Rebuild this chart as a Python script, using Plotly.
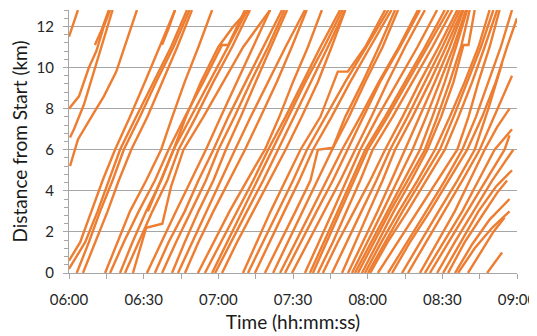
import plotly.graph_objects as go

# ---- data (minutes after 06:00, km from start) ----
KM_STD = [0, 1.5, 3.0, 4.5, 6.0, 7.6, 9.3, 11.0, 12.8]

# trips passing every standard km mark: time (min after 06:00) at each mark
std_trip_times = [
    [3.1, 8, 12.5, 17.5, 22, 28.5, 35, 42, 48.4],
    [5.6, 10.5, 15.5, 20, 25, 31.5, 37.5, 43.5, 49.4],
    [14.5, 19.5, 24.5, 31, 37, 41.5, 46.5, 52, 57.5],
    [20.5, 25.5, 31, 37, 42, 49, 56.5, 64, 71.7],
    [22.5, 28, 33.5, 39.5, 44, 51, 58, 65.5, 72.7],
    [31.3, 37, 43, 49, 55, 61, 67.5, 74, 80.8],
    [34.5, 40, 46.5, 52, 58, 64, 71, 78, 85.6],
    [37.4, 43, 49, 55, 60, 66.5, 73, 80, 86.6],
    [41.4, 46.5, 52, 58, 63, 69, 75, 81, 87.6],
    [43.8, 49.5, 55, 61, 66.7, 73, 80, 87, 94.8],
    [46.6, 52, 58, 64.5, 70.7, 77, 83.5, 89.5, 95.5],
    [51.8, 58, 64.5, 71.5, 78.7, 84.5, 90, 96, 101.6],
    [54.6, 61, 67.5, 74, 80, 87, 94, 101, 108.9],
    [57.5, 63.5, 69.5, 75.5, 81.6, 88, 95, 102.5, 109.9],
    [58.7, 65, 71.5, 78, 84, 90.5, 97, 104, 110.9],
    [61.5, 67.5, 74, 80.5, 87, 93.5, 100, 105.5, 111],
    [71.9, 78, 84, 90, 95.6, 103, 111, 119.5, 128.3],
    [74.7, 80.5, 86.5, 92.5, 98, 105.5, 113, 121, 129.6],
    [82, 88, 94, 100, 105.7, 112.5, 119, 126, 132.2],
    [84.8, 91, 97.5, 103.5, 109.7, 117, 124.5, 132.5, 140.2],
    [86.8, 93, 99.5, 106, 112, 118.5, 125, 133, 141],
    [89.6, 96, 102.5, 109, 115, 121.5, 128, 135, 143],
    [94.8, 100.5, 106, 111.5, 117, 124, 132, 140, 147.9],
    [96.8, 102.5, 108, 113.5, 119, 127, 135, 143, 151],
    [98, 103.5, 109, 114.5, 120, 128, 136, 144, 152.5],
    [100, 106, 111.5, 117, 122, 130, 138, 146, 154],
    [102, 108, 114.5, 121, 127, 134, 141, 148.5, 156],
    [105.7, 111.5, 117.5, 123.5, 129, 136, 143, 150, 157],
    [109.7, 115, 120.5, 126, 131, 138, 145, 151.5, 158],
    [112.1, 118, 124, 129.5, 135, 141, 147, 153, 158.5],
    [113.7, 120, 126, 132, 138, 143.5, 149, 154.5, 159.5],
    [114.9, 121.5, 128, 134.5, 141, 146, 151, 155.5, 160],
    [116.1, 122.5, 129, 136, 143, 148, 153, 157.5, 161],
    [118.9, 125.5, 132.5, 140, 147, 153, 159, 164.5, 169],
    [120.1, 127, 134, 141.5, 149, 154.5, 160, 165.5, 170.5],
    [121, 128, 136, 143.5, 151, 156.5, 162, 167, 172],
    [124.1, 132, 140, 148, 156, 160.5, 164.5, 169, 173],
    [128.2, 136, 143.5, 151, 158, 163.5, 168.5, 173.5, 178],
]

# trips with their own km points (start mid-route, stops, or end before the top)
custom_trip_times = [
    [0, 1.5, 3.6],
    [0, 4, 8, 11, 14, 16.5],
    [0.4, 3.6, 9, 14, 19, 23, 27.3],
    [0.4, 2, 6, 10, 14, 17.5],
    [10.4, 13, 16],
    [0, 4.5, 9, 13.5, 18.5, 24.5, 30.5, 36.5, 42.6],
    [0, 6.5, 11.5, 16, 20.5, 27, 34, 41, 47.4],
    [16.5, 22, 28, 34.5, 40, 47, 54, 61.5, 64, 70.7],
    [25.7, 31, 37.5, 41, 46, 54, 62, 70, 80.8],
    [31.7, 37, 42, 47, 53, 60, 66, 72],
    [37.4, 40, 42.6],
    [69.9, 75.5, 81, 87, 93, 101, 108, 112, 119, 127],
    [78.7, 85, 91, 97, 100, 106, 111, 118, 124.5, 131],
    [117.7, 124, 130.5, 137.5, 144, 149.5, 154.5, 158.5, 160.5, 163],
    [129.8, 137, 145, 152.5, 160, 166, 171.5, 176, 180],
    [133.8, 141, 148.5, 156, 163, 168.5, 174],
    [136.2, 143.5, 151, 158, 165, 171.5, 178],
    [141, 148, 155, 161, 167, 172, 177],
    [143, 150.5, 158, 164.5, 171, 178],
    [145, 152.5, 160, 167.5, 175, 177],
    [147.9, 155, 162.5, 170, 178.5],
    [150.3, 157.5, 164.5, 171.5, 178],
    [152.3, 159, 166, 172, 176],
    [155.1, 162, 169, 177],
    [156.3, 163, 170, 177],
    [160.3, 165.5, 170.5, 175],
    [168, 171, 174],
]
custom_trip_km = [
    [11.5, 12.0, 12.8],
    [8.0, 8.6, 10.0, 10.8, 12.0, 12.8],
    [5.2, 6.5, 7.6, 8.6, 9.8, 11.2, 12.8],
    [6.6, 7.0, 8.2, 9.8, 11.4, 12.8],
    [11.1, 11.8, 12.8],
    [0.6, 1.5, 3, 4.5, 6, 7.6, 9.3, 11, 12.8],
    [0.2, 1.5, 3, 4.5, 6, 7.6, 9.3, 11, 12.8],
    [0, 1.5, 3, 4.5, 6, 7.7, 9.3, 11.1, 11.1, 12.8],
    [0, 2.2, 2.4, 4.2, 6, 7.6, 9.3, 11, 12.8],
    [3.0, 4.5, 6.0, 7.6, 9.3, 11.0, 12.0, 12.8],
    [11.1, 11.9, 12.8],
    [0, 1.5, 3, 4.5, 6, 7.6, 9.8, 9.8, 11, 12.8],
    [0, 1.5, 3, 4.5, 6, 6.1, 7.6, 9.3, 11, 12.8],
    [0, 1.5, 3, 4.5, 6, 7.6, 9.3, 11.1, 11.1, 12.8],
    [0, 1.5, 3, 4.5, 6, 7.6, 9.3, 11, 12.4],
    [0, 1.5, 3, 4.5, 6, 8.0, 10.2],
    [0, 1.5, 3, 4.5, 6, 7.8, 9.6],
    [0, 1.5, 3, 4.5, 6, 7.1, 8.0],
    [0, 1.5, 3, 4.5, 6, 7.0],
    [0, 1.5, 3, 4.5, 6, 6.7],
    [0, 1.5, 3, 4.5, 6.0],
    [0, 1.5, 3, 4.2, 5.0],
    [0, 1.5, 2.8, 3.9, 4.5],
    [0, 1.4, 2.6, 3.6],
    [0, 1.2, 2.2, 3.0],
    [0, 1.0, 2.0, 2.7],
    [0, 0.5, 1.0],
]

x_tick_vals = [0, 30, 60, 90, 120, 150, 180]
x_tick_text = ["06:00", "06:30", "07:00", "07:30", "08:00", "08:30", "09:00"]
y_tick_vals = [0, 2, 4, 6, 8, 10, 12]

LINE_COLOR = "#ED7D31"
AXIS_GRAY = "#A6A6A6"
FONT = "Lato, 'Open Sans', sans-serif"

fig = go.Figure()
for times in std_trip_times:
    fig.add_trace(go.Scatter(x=times, y=KM_STD, mode="lines",
                             line=dict(color=LINE_COLOR, width=2.4),
                             showlegend=False, hoverinfo="skip"))
for times, kms in zip(custom_trip_times, custom_trip_km):
    fig.add_trace(go.Scatter(x=times, y=kms, mode="lines",
                             line=dict(color=LINE_COLOR, width=2.4),
                             showlegend=False, hoverinfo="skip"))

# the page body has an 8px default margin (left/top), so the figure is 8px smaller
fig.update_layout(
    width=529, height=328,
    margin=dict(l=61, r=20, t=2, b=63),
    paper_bgcolor="white", plot_bgcolor="white",
    font=dict(family=FONT, size=15, color="#262626"),
    xaxis=dict(
        range=[0, 180], tickvals=x_tick_vals, ticktext=x_tick_text,
        showgrid=False, zeroline=False,
        showline=True, linecolor=AXIS_GRAY, linewidth=1,
        ticks="outside", ticklen=5, tickcolor=AXIS_GRAY,
        minor=dict(dtick=15, tick0=0, ticks="outside", ticklen=5, tickcolor=AXIS_GRAY),
        ticklabelstandoff=8,
        tickfont=dict(size=15, color="#262626"),
        title=dict(text="Time (hh:mm:ss)", font=dict(size=19, color="#1a1a1a"), standoff=8),
        automargin=False,
    ),
    yaxis=dict(
        range=[0, 12.8], tickvals=y_tick_vals,
        showgrid=True, gridcolor=AXIS_GRAY, gridwidth=1,
        zeroline=False,
        showline=True, linecolor=AXIS_GRAY, linewidth=1,
        ticks="outside", ticklen=5, tickcolor=AXIS_GRAY,
        minor=dict(dtick=0.4, tick0=0, ticks="outside", ticklen=4, tickcolor=AXIS_GRAY, showgrid=False),
        ticklabelstandoff=6,
        tickfont=dict(size=15, color="#262626"),
        title=dict(text="Distance from Start (km)", font=dict(size=19, color="#1a1a1a"), standoff=10),
        automargin=False,
    ),
)

fig.write_html("out.html")
